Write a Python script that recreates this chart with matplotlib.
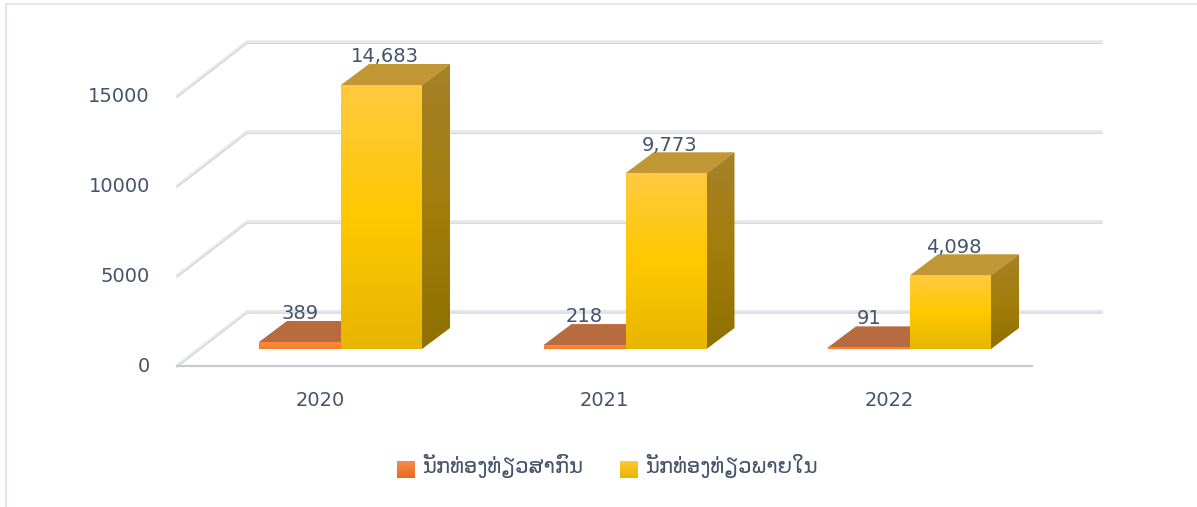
import numpy as np
import matplotlib
matplotlib.use("Agg")
import matplotlib.pyplot as plt
from matplotlib.patches import Polygon

years = ["2020", "2021", "2022"]
international = [389, 218, 91]
domestic = [14683, 9773, 4098]
intl_labels = ["389", "218", "91"]
dom_labels = ["14,683", "9,773", "4,098"]
ticks = [0, 5000, 10000, 15000]
tick_labels = ["0", "5000", "10000", "15000"]
legend_names = ["ນັກທ່ອງທ່ຽວສາກົນ", "ນັກທ່ອງທ່ຽວພາຍໃນ"]

W, H = 1197, 507
TXT = "#44546a"
FONT = "DejaVu Sans"

# pixel layout of the fake 3d
base_px = 349
group_px = 341
step_px = 284.5
px_per_y = 264 / 14683
bar_px = 81
dx, dy = 28, 21  # bar depth
px_per_x = step_px


def hex2rgb(c):
    return np.array(matplotlib.colors.to_rgb(c))


def grad(stops, n=100):
    # vertical gradient, first stop at the top
    pos = np.linspace(0, 1, len(stops))
    cols = np.array([hex2rgb(c) for c in stops])
    t = np.linspace(0, 1, n)
    return np.stack([np.interp(t, pos, cols[:, i]) for i in range(3)], axis=1)[:, None, :]


fig = plt.figure(figsize=(W / 100, H / 100), dpi=100)
fig.patch.set_facecolor("white")
ax = fig.add_axes([0, 0, 1, 1])
ax.axis("off")
xlim = (-group_px / px_per_x, (W - group_px) / px_per_x)
ylim = (-(H - base_px) / px_per_y, base_px / px_per_y)


def ddx(p):
    return p / px_per_x


def ddy(p):
    return p / px_per_y


def grad_poly(pts, stops, z):
    pts = np.array(pts)
    im = ax.imshow(grad(stops), extent=(pts[:, 0].min(), pts[:, 0].max(), pts[:, 1].min(), pts[:, 1].max()),
                   aspect="auto", origin="upper", zorder=z, interpolation="bilinear")
    poly = Polygon(pts, closed=True, transform=ax.transData, fc="none", ec="none")
    ax.add_patch(poly)
    im.set_clip_path(poly)


# page border, left and top only
ax.plot([ddx(5.5 - group_px)] * 2 + [ddx(W - group_px)],
        [ddy(-(H - base_px)), ddy(base_px - 4.5), ddy(base_px - 4.5)],
        color="#e3e6ee", lw=1.5, zorder=0, solid_joinstyle="miter")

# gridlines and walls
left = ddx(177 - group_px)
right = ddx(1032 - group_px)
front_off = ddy(-17)
for t in ticks:
    y0 = t + front_off
    xs = [left, left + ddx(70), right + ddx(70)]
    ys = [y0, y0 + ddy(54), y0 + ddy(54)]
    ax.plot(xs, [v + ddy(-1) for v in ys], color="#ccd0d4", lw=0.9, zorder=1, solid_joinstyle="miter")
    ax.plot(xs, [v + ddy(1) for v in ys], color="#e6e7ea", lw=1.4, zorder=1, solid_joinstyle="miter")
    ax.text(ddx(150 - group_px), t + ddy(-14) - ddy(3), tick_labels[ticks.index(t)], ha="right", va="center",
            fontsize=14, color=TXT, family=FONT, zorder=6)
ax.plot([left, right], [front_off, front_off], color="#c8ccd1", lw=1.6, zorder=1)

w = ddx(bar_px)
w_orange = ddx(82)
for i in range(3):
    # orange bar, only front and top show, yellow sits in front of the rest
    v = international[i]
    l = i - w_orange
    r = i
    ax.add_patch(Polygon([(l, v), (l + ddx(dx), v + ddy(dy)), (r + ddx(dx), v + ddy(dy)), (r, v)],
                         fc="#b96b40", ec="none", zorder=2))
    grad_poly([(l, 0), (l, v), (r, v), (r, 0)], ["#f78a45", "#fd7a22"], 3)

    # yellow bar
    v = domestic[i]
    l = i
    r = i + w
    ax.add_patch(Polygon([(l, v), (l + ddx(dx), v + ddy(dy)), (r + ddx(dx), v + ddy(dy)), (r, v)],
                         fc="#c19634", ec="none", zorder=4))
    grad_poly([(r, 0), (r, v), (r + ddx(dx), v + ddy(dy)), (r + ddx(dx), ddy(dy))],
              ["#a68128", "#a37d0c", "#8f7000"], 4)
    grad_poly([(l, 0), (l, v), (r, v), (r, 0)], ["#ffca40", "#ffc800", "#e8b500"], 5)

    ax.text(i - ddx(41), international[i] + ddy(29), intl_labels[i], ha="center", va="center",
            fontsize=14, color=TXT, family=FONT, zorder=6)
    ax.text(i + ddx(44), domestic[i] + ddy(28), dom_labels[i], ha="center", va="center",
            fontsize=14, color=TXT, family=FONT, zorder=6)
    ax.text(i - ddx(21), ddy(-52), years[i], ha="center", va="center",
            fontsize=14, color=TXT, family=FONT)

ax.set_xlim(xlim)
ax.set_ylim(ylim)

# legend
swatches = [["#f58d52", "#e86a1a"], ["#ffca30", "#e6b400"]]
for name, stops, sx, tx in zip(legend_names, swatches, [397, 620], [422, 645]):
    sw = fig.add_axes([sx / W, 1 - 478 / H, 18 / W, 17 / H])
    sw.imshow(grad(stops), aspect="auto")
    sw.axis("off")
    fig.text(tx / W, 1 - 466 / H, name, fontsize=15.2, color=TXT, family="DejaVu Sans", ha="left", va="center")

fig.savefig("out.png", dpi=100)
